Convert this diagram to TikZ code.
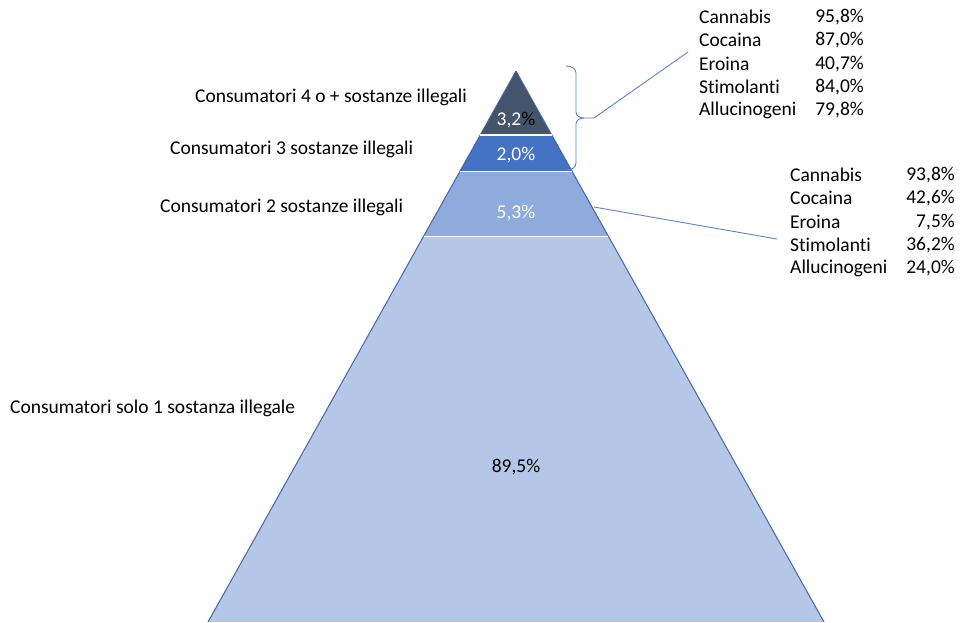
\documentclass[tikz,border=0pt]{standalone}
\usepackage{fontspec}
\setmainfont[Ligatures=NoCommon]{Carlito}
\definecolor{bandA}{HTML}{44546A}
\definecolor{bandB}{HTML}{4472C4}
\definecolor{bandC}{HTML}{8FAADC}
\definecolor{bandD}{HTML}{B4C7E7}
\definecolor{edgeblue}{HTML}{4566AD}
\definecolor{linkblue}{HTML}{5B84D0}
\begin{document}
\begin{tikzpicture}[x=1pt,y=-1pt,
  lbl/.style={font=\fontsize{19.5}{23.4}\selectfont, inner sep=0pt, anchor=west},
  pct/.style={font=\fontsize{19.5}{23.4}\selectfont, inner sep=0pt},
  rnum/.style={font=\fontsize{19.5}{23.4}\selectfont, inner sep=0pt, anchor=east},
  edge/.style={draw=edgeblue, line width=1pt},
  sep/.style={draw=white, line width=1.3pt},
  link/.style={draw=linkblue, line width=0.9pt}]
\useasboundingbox (0,0) rectangle (961,622);
% bands
\fill[bandD] (423.8,236) -- (608.2,236) -- (824,622) -- (208,622) -- cycle;
\fill[bandC] (460.1,171) -- (571.9,171) -- (608.2,236) -- (423.8,236) -- cycle;
\fill[bandB] (480.2,135) -- (551.8,135) -- (571.9,171) -- (460.1,171) -- cycle;
\fill[bandA] (516,71) -- (551.8,135) -- (480.2,135) -- cycle;
\draw[edge] (516,71) -- (824,622);
\draw[edge] (516,71) -- (208,622);
\draw[sep] (480.2,135) -- (551.8,135);
\draw[sep] (460.1,171.5) -- (571.9,171.5);
\draw[draw=white, line width=0.6pt] (423.8,236) -- (608.2,236);
% band values
\node[pct, text=white] (v4) at (516,120) {3,2\textcolor{black}{\%}};
\node[pct, text=white] (v3) at (516,155) {2,0\%};
\node[pct, text=white] (v2) at (516,213) {5,3\%};
\node[pct] (v1) at (516,467) {89,5\%};
% left labels
\node[lbl] (l4) at (195,97) {Consumatori 4 o + sostanze illegali};
\node[lbl] (l3) at (170,149) {Consumatori 3 sostanze illegali};
\node[lbl] (l2) at (160,207) {Consumatori 2 sostanze illegali};
\node[lbl] (l1) at (10,408) {Consumatori solo 1 sostanza illegale};
% brace
\draw[link] (566,66) to[out=0,in=90] (576,73) -- (576,112) to[out=-90,in=180] (584,118) -- (594,118);
\draw[link] (584,118) to[out=180,in=90] (576,124) -- (576,163) to[out=-90,in=0] (567,170);
\coordinate (b1) at (594,118);
\coordinate (t1) at (688,52);
\coordinate (b2) at (594,207);
\coordinate (t2) at (777,239);
\draw[link] (b1) -- (t1);
\draw[link] (b2) -- (t2);
% table 1
\node[lbl] (a1) at (699,17) {Cannabis};
\node[lbl] (a2) at (699,40.3) {Cocaina};
\node[lbl] (a3) at (699,63.6) {Eroina};
\node[lbl] (a4) at (699,86.9) {Stimolanti};
\node[lbl] (a5) at (699,110.2) {Allucinogeni};
\node[rnum] (p1) at (864,17) {95,8\%};
\node[rnum] (p2) at (864,40.3) {87,0\%};
\node[rnum] (p3) at (864,63.6) {40,7\%};
\node[rnum] (p4) at (864,86.9) {84,0\%};
\node[rnum] (p5) at (864,110.2) {79,8\%};
% table 2
\node[lbl] (c1) at (790,175) {Cannabis};
\node[lbl] (c2) at (790,198.3) {Cocaina};
\node[lbl] (c3) at (790,221.6) {Eroina};
\node[lbl] (c4) at (790,244.9) {Stimolanti};
\node[lbl] (c5) at (790,268.2) {Allucinogeni};
\node[rnum] (q1) at (955,175) {93,8\%};
\node[rnum] (q2) at (955,198.3) {42,6\%};
\node[rnum] (q3) at (955,221.6) {7,5\%};
\node[rnum] (q4) at (955,244.9) {36,2\%};
\node[rnum] (q5) at (955,268.2) {24,0\%};
\end{tikzpicture}
\end{document}
